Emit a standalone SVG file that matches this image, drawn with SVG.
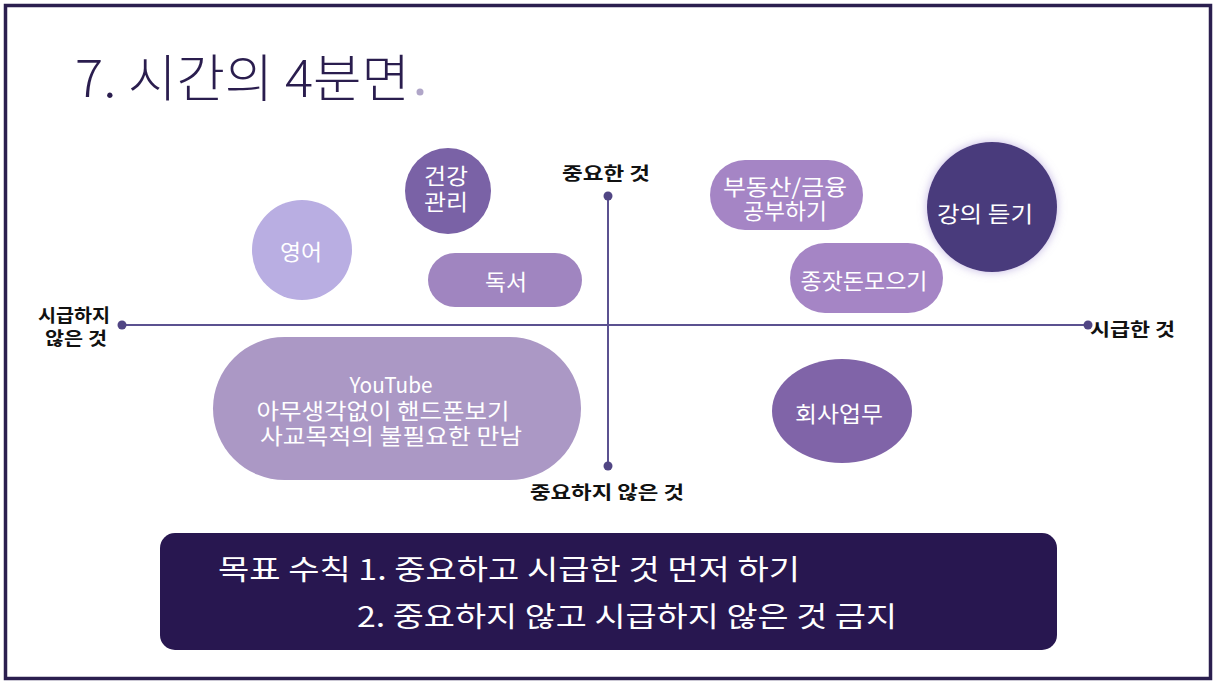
<svg xmlns="http://www.w3.org/2000/svg" width="1216" height="684" viewBox="0 0 1216 684">
<style>
.ko{font-family:"Noto Sans CJK KR","Noto Sans",sans-serif}
.nt{font-family:"Noto Sans CJK KR","Noto Sans",sans-serif;fill:#ffffff;font-size:22px;text-anchor:middle}
.ax{font-family:"Noto Sans CJK KR","Noto Sans",sans-serif;fill:#111111;font-size:18px;font-weight:bold}
.axl{stroke:#5b5190;stroke-width:2}
.dot{fill:#514684}
</style>
<defs>
<filter id="glow" x="-30%" y="-30%" width="160%" height="160%">
<feGaussianBlur in="SourceAlpha" stdDeviation="6"/>
<feFlood flood-color="#9a86d0" flood-opacity="0.6"/>
<feComposite operator="in" in2="SourceAlpha"/>
<feGaussianBlur stdDeviation="5"/>
<feMerge><feMergeNode/><feMergeNode in="SourceGraphic"/></feMerge>
</filter>
</defs>
<rect x="0" y="0" width="1216" height="684" fill="#ffffff"/>
<rect x="5.5" y="5.5" width="1205" height="673" fill="none" stroke="#2b1f4f" stroke-width="3.5"/>
<g id="title">
<text x="75" y="97" class="ko" font-size="51" font-weight="300" fill="#2a1d4e" textLength="335" lengthAdjust="spacingAndGlyphs">7. 시간의 4분면</text>
<circle cx="420" cy="92" r="3.5" fill="#b0a6c8"/>
</g>
<g id="axes">
<line x1="122" y1="325" x2="1088" y2="325" class="axl"/>
<line x1="608" y1="196" x2="608" y2="466" class="axl"/>
<circle cx="122" cy="325" r="4.5" class="dot"/>
<circle cx="1088" cy="325" r="4.5" class="dot"/>
<circle cx="608" cy="196" r="4.5" class="dot"/>
<circle cx="608" cy="466" r="4.5" class="dot"/>
<text x="562" y="180" class="ax" textLength="88" lengthAdjust="spacingAndGlyphs">중요한 것</text>
<text x="530" y="499" class="ax" textLength="154" lengthAdjust="spacingAndGlyphs">중요하지 않은 것</text>
<text x="38" y="322" class="ax" textLength="72" lengthAdjust="spacingAndGlyphs">시급하지</text>
<text x="45" y="345" class="ax" textLength="62" lengthAdjust="spacingAndGlyphs">않은 것</text>
<text x="1090" y="336" class="ax" textLength="85" lengthAdjust="spacingAndGlyphs">시급한 것</text>
</g>
<g id="n-health">
<circle cx="448" cy="191" r="43" fill="#7a62a6"/>
<text x="446" y="184" class="nt" textLength="44" lengthAdjust="spacingAndGlyphs">건강</text>
<text x="446" y="210" class="nt" textLength="44" lengthAdjust="spacingAndGlyphs">관리</text>
</g>
<g id="n-english">
<circle cx="302" cy="250" r="50" fill="#b9aee2"/>
<text x="301" y="260" class="nt" textLength="42" lengthAdjust="spacingAndGlyphs">영어</text>
</g>
<g id="n-reading">
<rect x="428" y="253" width="154" height="54" rx="27" fill="#a085c0"/>
<text x="506" y="290" class="nt" textLength="42" lengthAdjust="spacingAndGlyphs">독서</text>
</g>
<g id="n-realestate">
<rect x="710" y="160" width="153" height="70" rx="35" fill="#a585c5"/>
<text x="785" y="195" class="nt" textLength="124" lengthAdjust="spacingAndGlyphs">부동산/금융</text>
<text x="785" y="219" class="nt" textLength="84" lengthAdjust="spacingAndGlyphs">공부하기</text>
</g>
<g id="n-lecture">
<circle cx="992" cy="207" r="65" fill="#4a3a7c" filter="url(#glow)"/>
<text x="985" y="222" class="nt" font-size="23" textLength="96" lengthAdjust="spacingAndGlyphs">강의 듣기</text>
</g>
<g id="n-seed">
<rect x="790" y="243" width="153" height="70" rx="35" fill="#a585c5"/>
<text x="864" y="289" class="nt" textLength="127" lengthAdjust="spacingAndGlyphs">종잣돈모으기</text>
</g>
<g id="n-work">
<ellipse cx="842" cy="411" rx="70" ry="52" fill="#8064a8"/>
<text x="839" y="422" class="nt" textLength="88" lengthAdjust="spacingAndGlyphs">회사업무</text>
</g>
<g id="n-youtube">
<rect x="213" y="337" width="368" height="143" rx="71.5" fill="#ab98c5"/>
<text x="391" y="393" class="nt" textLength="83" lengthAdjust="spacingAndGlyphs">YouTube</text>
<text x="383" y="419" class="nt" textLength="253" lengthAdjust="spacingAndGlyphs">아무생각없이 핸드폰보기</text>
<text x="391" y="444" class="nt" textLength="262" lengthAdjust="spacingAndGlyphs">사교목적의 불필요한 만남</text>
</g>
<g id="goals">
<rect x="160" y="533" width="897" height="117" rx="15" fill="#281750"/>
<text x="218" y="580" class="ko" font-size="28" fill="#ffffff" textLength="582" lengthAdjust="spacingAndGlyphs">목표 수칙 1. 중요하고 시급한 것 먼저 하기</text>
<text x="357" y="627" class="ko" font-size="28" fill="#ffffff" textLength="540" lengthAdjust="spacingAndGlyphs">2. 중요하지 않고 시급하지 않은 것 금지</text>
</g>
</svg>
